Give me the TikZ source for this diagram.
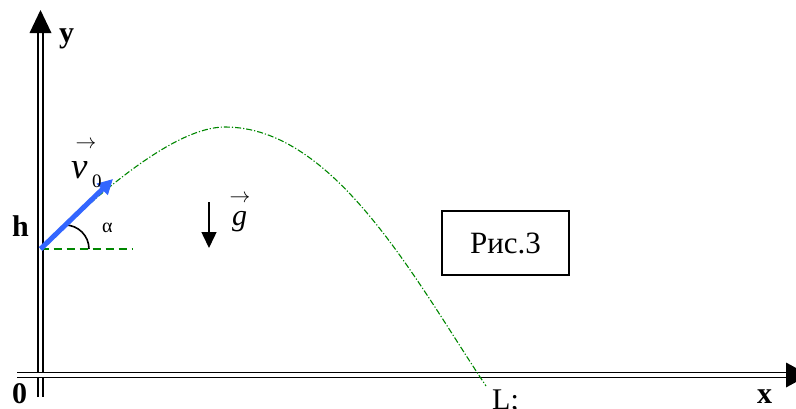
\documentclass[tikz,border=0pt]{standalone}
\usepackage{fontspec}
\setmainfont{Liberation Serif}
\usetikzlibrary{arrows.meta}
\definecolor{trajgreen}{RGB}{0,135,0}
\definecolor{vblue}{RGB}{51,102,255}
\begin{document}
\begin{tikzpicture}[x=1pt,y=-1pt,
  axis/.style={double, line width=1.7pt, double distance=3.2pt, draw=black},
  blbl/.style={inner sep=0, anchor=base west, font=\fontsize{30}{32}\selectfont\bfseries},
  vecarrow/.style={inner sep=0, anchor=center, font=\fontsize{20}{22}\selectfont}]
\useasboundingbox (0,0) rectangle (796,408);
\clip (0,0) rectangle (796,408);
% axes
\coordinate (ytop) at (40.5,33);
\coordinate (ybot) at (40.5,397);
\coordinate (xl) at (17,375);
\coordinate (xr) at (786,375);
\draw[axis] (ybot) -- (ytop);
\fill (29.5,33) -- (40.5,10) -- (51.5,33) -- cycle;
\draw[axis] (xl) -- (xr);
\fill (786,362.5) -- (809,375) -- (786,387.5) -- cycle;
% labels
\node[blbl] (ylab) at (59,42) {y};
\node[blbl] (hlab) at (12,236) {h};
\node[blbl] (zlab) at (12,403) {0};
\node[blbl] (xlab) at (757,403) {x};
\node[inner sep=0, anchor=base west, font=\fontsize{30}{32}\selectfont] (Llab) at (492,409) {L;};
% launch point
\coordinate (O) at (40.5,249);
\coordinate (apex) at (225,127);
\coordinate (land) at (486,386);
\coordinate (dashend) at (133,249);
\coordinate (vtip) at (113,179);
% trajectory
\draw[trajgreen, line width=1.1pt, dash pattern=on 6pt off 2pt on 1.2pt off 2pt]
  (O) .. controls (100,191.5) and (175,127) .. (apex)
      .. controls (335,127) and (416,281) .. (land);
% horizontal dashed
\draw[trajgreen, line width=2pt, dash pattern=on 8pt off 5pt] (O) -- (dashend);
% angle arc
\draw[line width=1.6pt] (65,225) arc[start angle=-90, end angle=0, radius=24];
\node[inner sep=0, anchor=base west, font=\fontsize{20}{22}\selectfont] (alab) at (102,232) {α};
% velocity
\draw[vblue, line width=5pt, -{Triangle[length=15pt,width=15pt]}] (O) -- (vtip);
\node[inner sep=0, anchor=base west, font=\fontsize{37}{40}\selectfont\itshape] (vlab) at (71,178) {v};
\node[inner sep=0, anchor=base west, font=\fontsize{19}{20}\selectfont] (vsub) at (92,187) {0};
\node[vecarrow] (varr) at (86,145) {$\rightarrow$};
% gravity
\coordinate (gtop) at (209,202);
\coordinate (gbot) at (209,248);
\draw[line width=1.5pt, -{Triangle[length=16pt,width=15pt]}] (gtop) -- (gbot);
\node[inner sep=0, anchor=base west, font=\fontsize{30}{33}\selectfont\itshape] (glab) at (232,225) {g};
\node[vecarrow] (garr) at (240,199) {$\rightarrow$};
% figure box
\node[draw, line width=1.4pt, minimum width=127pt, minimum height=64pt, inner sep=0,
      font=\fontsize{31}{33}\selectfont] (fig) at (505.5,243) {Рис.3\hspace{17pt}};
\end{tikzpicture}
\end{document}
